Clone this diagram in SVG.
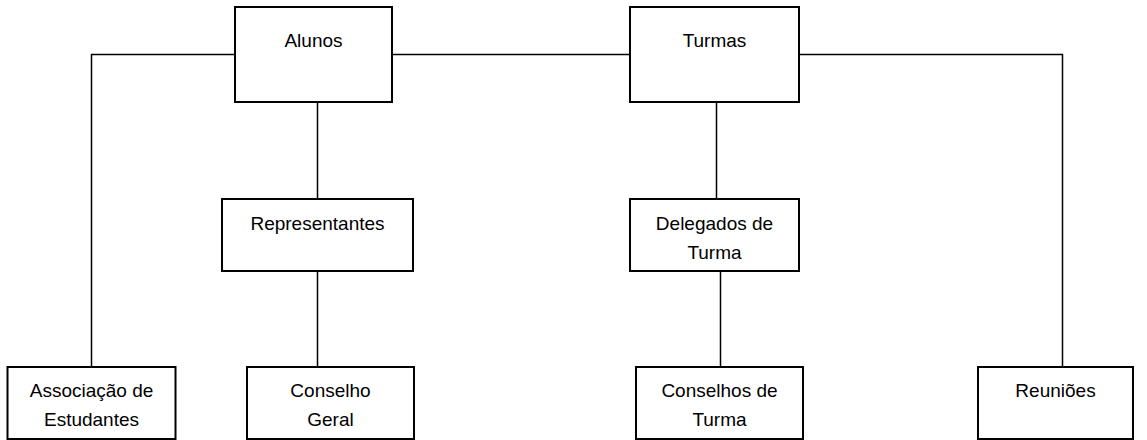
<svg xmlns="http://www.w3.org/2000/svg" width="1147" height="440" viewBox="0 0 1147 440">
<style>
.box{fill:#fff;stroke:#000;stroke-width:2}
.ln{fill:none;stroke:#000;stroke-width:1.5}
text{font-family:"Liberation Sans",Arial,sans-serif;font-size:19px;fill:#000;text-anchor:middle}
</style>
<rect width="1147" height="440" fill="#fff"/>
<g id="connectors">
<path class="ln" d="M91.5,368 V54.5 H235 M392,54.5 H630 M799,54.5 H1062.5 V368"/>
<path class="ln" d="M317.5,102 V199 M317.5,271 V367"/>
<path class="ln" d="M716.5,102 V199 M720.5,271 V367"/>
</g>
<g id="alunos"><rect class="box" x="235" y="7" width="157" height="95"/><text x="313.5" y="47">Alunos</text></g>
<g id="turmas"><rect class="box" x="630" y="7" width="169" height="95"/><text x="714.5" y="47">Turmas</text></g>
<g id="representantes"><rect class="box" x="222" y="199" width="191" height="72"/><text x="317.5" y="230">Representantes</text></g>
<g id="delegados"><rect class="box" x="630" y="199" width="169" height="72"/><text x="714.5" y="230">Delegados de</text><text x="714.5" y="259">Turma</text></g>
<g id="associacao"><rect class="box" x="7.5" y="367" width="168" height="72"/><text x="91.5" y="397">Associação de</text><text x="91.5" y="426">Estudantes</text></g>
<g id="conselho-geral"><rect class="box" x="247" y="367" width="167" height="72"/><text x="330.5" y="397">Conselho</text><text x="330.5" y="426">Geral</text></g>
<g id="conselhos-turma"><rect class="box" x="636" y="367" width="167" height="72"/><text x="719.5" y="397">Conselhos de</text><text x="719.5" y="426">Turma</text></g>
<g id="reunioes"><rect class="box" x="978" y="367" width="155" height="72"/><text x="1055.5" y="397">Reuniões</text></g>
</svg>
